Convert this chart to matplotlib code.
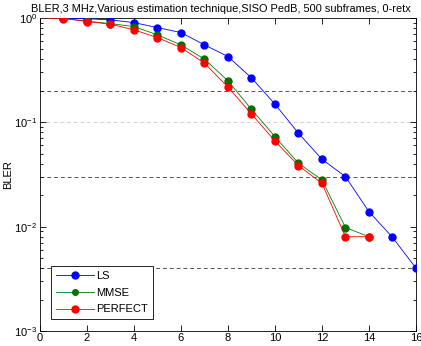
import matplotlib
matplotlib.use('Agg')
import matplotlib.pyplot as plt
from matplotlib.ticker import LogLocator, NullFormatter
import numpy as np

plt.rcParams['font.family'] = ['Liberation Sans', 'DejaVu Sans']

snr = [0, 1, 2, 3, 4, 5, 6, 7, 8, 9, 10, 11, 12, 13, 14, 15, 16]
bler_ls = [1.0, 0.99, 0.98, 0.957, 0.90, 0.807, 0.723, 0.551, 0.426, 0.266,
           0.149, 0.0785, 0.0442, 0.0301, 0.0139, 0.0079, 0.004]
snr_est = [0, 1, 2, 3, 4, 5, 6, 7, 8, 9, 10, 11, 12, 13, 14]
bler_mmse = [1.0, 0.99, 0.93, 0.88, 0.825, 0.687, 0.551, 0.402, 0.249, 0.133,
             0.0728, 0.0405, 0.028, 0.0098, 0.008]
bler_perfect = [1.0, 0.985, 0.922, 0.87, 0.767, 0.647, 0.519, 0.368, 0.217,
                0.120, 0.066, 0.0384, 0.026, 0.008, 0.008]
ref_levels = [0.2, 0.03, 0.004]

fig = plt.figure(figsize=(4.21, 3.46), dpi=100)
ax = fig.add_axes([0.095, 0.0434, 0.893, 0.905])

ax.axhline(0.1, color='#d0d0d0', ls=(0, (3, 3)), lw=0.8, zorder=1)
for lv in ref_levels:
    ax.axhline(lv, color='#555555', ls=(0, (4, 3)), lw=0.7, zorder=1)

ms = 5
ax.semilogy(snr, bler_ls, '-o', color='#0000ff', mfc='#0000ff', mec='#0000ff',
            ms=ms, lw=0.6, markevery=list(range(1, len(snr))), label='LS', zorder=3)
ax.semilogy(snr_est, bler_mmse, '-o', color='#008000', mfc='#007000', mec='#007000',
            ms=ms, lw=0.6, markevery=list(range(1, len(snr_est))), label='MMSE', zorder=4)
ax.semilogy(snr_est, bler_perfect, '-o', color='#ff0000', mfc='#ff0000', mec='#ff0000',
            ms=ms, lw=0.6, markevery=list(range(1, len(snr_est))), label='PERFECT', zorder=5)

ax.set_xlim(0, 16)
ax.set_ylim(1e-3, 1)
ax.set_xticks(range(0, 17, 2))
ax.yaxis.set_major_locator(LogLocator(base=10, numticks=10))
ax.yaxis.set_minor_locator(LogLocator(base=10, subs=np.arange(2, 10), numticks=10))
ax.yaxis.set_minor_formatter(NullFormatter())
ax.tick_params(which='both', direction='in', top=True, right=True, labelsize=8)
ax.tick_params(which='major', length=4, width=0.6)
ax.tick_params(which='minor', length=2, width=0.6)
ax.tick_params(axis='x', pad=1.5)
ax.tick_params(axis='y', pad=2)
for s in ax.spines.values():
    s.set_linewidth(0.6)

ax.set_ylabel('BLER', fontsize=8)
ax.yaxis.set_label_coords(-0.072, 0.5)
ax.set_title('BLER,3 MHz,Various estimation technique,SISO PedB, 500 subframes, 0-retx',
             fontsize=7.9, pad=4, x=0.481)

leg = ax.legend(loc='lower left', bbox_to_anchor=(0.029, 0.037), fontsize=8,
                fancybox=False, framealpha=1, edgecolor='black',
                handlelength=3.4, handletextpad=0.2, borderpad=0.45,
                labelspacing=0.6, borderaxespad=0)
leg.get_frame().set_linewidth(0.6)
leg.legend_handles[1].set_markersize(4)

fig.savefig('out.png', dpi=100)
